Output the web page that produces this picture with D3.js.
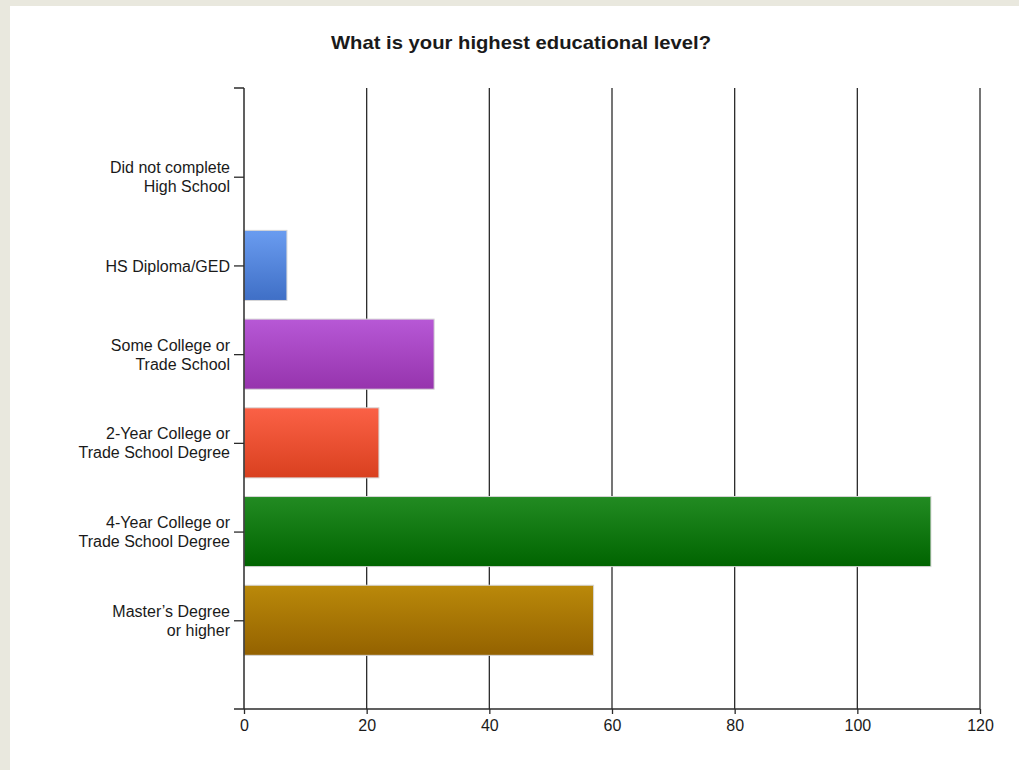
<!DOCTYPE html>
<html>
<head>
<meta charset="utf-8">
<script src="https://cdn.jsdelivr.net/npm/d3@7"></script>
<style>
  html, body { margin: 0; padding: 0; background: #e9e8de; }
  #chart { position: absolute; left: 10px; top: 6px; width: 1009px; height: 764px; background: #ffffff; }
  text { font-family: "Liberation Sans", Arial, sans-serif; fill: #1a1a1a; }
</style>
</head>
<body>
<div id="chart"></div>
<script>
// chart data
var categories = [
  ["Did not complete", "High School"],
  ["HS Diploma/GED"],
  ["Some College or", "Trade School"],
  ["2-Year College or", "Trade School Degree"],
  ["4-Year College or", "Trade School Degree"],
  ["Master\u2019s Degree", "or higher"]
];
var counts = [0, 7, 31, 22, 112, 57];
var xTicks = [0, 20, 40, 60, 80, 100, 120];
// gradient top / bottom colours for each bar
var barTop = ["#6a9cf0", "#6a9cf0", "#b758d6", "#fb6146", "#228b22", "#ba890a"];
var barBottom = ["#3f6fc6", "#3f6fc6", "#9634ad", "#d9401f", "#006400", "#946200"];

var title = "What is your highest educational level?";

// layout
var margin = {top: 82, left: 234, right: 39, bottom: 61};
var width = 1009, height = 764;

var svg = d3.select("#chart").append("svg")
    .attr("width", width)
    .attr("height", height);

var defs = svg.append("defs");
categories.forEach(function(c, i){
  var g = defs.append("linearGradient")
      .attr("id", "grad" + i)
      .attr("x1", 0).attr("y1", 0).attr("x2", 0).attr("y2", 1);
  g.append("stop").attr("offset", "0%").attr("stop-color", barTop[i]);
  g.append("stop").attr("offset", "100%").attr("stop-color", barBottom[i]);
});

var x = d3.scaleLinear()
    .domain([0, 120])
    .range([margin.left, width - margin.right]);

// category positions (one empty slot at each end)
var y = d3.scalePoint()
    .domain(d3.range(categories.length))
    .range([margin.top, height - margin.bottom])
    .padding(1);

var barH = y.step() * 0.79;

// title
svg.append("text")
    .attr("x", 511)
    .attr("y", 43)
    .attr("text-anchor", "middle")
    .style("font-size", "19px")
    .style("font-weight", "bold")
    .attr("textLength", 380)
    .attr("lengthAdjust", "spacingAndGlyphs")
    .text(title);

// vertical grid lines
svg.append("g")
  .selectAll("line")
  .data(xTicks.slice(1))
  .enter()
  .append("line")
    .attr("x1", function(d){ return x(d); })
    .attr("x2", function(d){ return x(d); })
    .attr("y1", margin.top)
    .attr("y2", height - margin.bottom)
    .attr("stroke", "#2b2b2b")
    .attr("stroke-width", 1.3);

// bars
svg.append("g")
  .selectAll("rect")
  .data(counts.map(function(d, i){ return {i: i, v: d}; }).filter(function(d){ return d.v > 0; }))
  .enter()
  .append("rect")
    .attr("x", x(0))
    .attr("y", function(d){ return y(d.i) - barH / 2; })
    .attr("width", function(d){ return x(d.v) - x(0); })
    .attr("height", barH)
    .attr("fill", function(d){ return "url(#grad" + d.i + ")"; })
    .attr("stroke", "#d6d6d6")
    .attr("stroke-width", 1);

// x axis
var xAxis = svg.append("g")
    .attr("transform", "translate(0," + (height - margin.bottom) + ")")
    .call(d3.axisBottom(x).tickValues(xTicks).tickSize(5).tickSizeOuter(0).tickPadding(6));
xAxis.select(".domain").remove();
xAxis.append("line")
    .attr("x1", x(0) - 10).attr("x2", x(120))
    .attr("stroke", "#2b2b2b").attr("stroke-width", 1.5);
xAxis.selectAll(".tick line").attr("stroke", "#2b2b2b").attr("stroke-width", 1.3);
xAxis.selectAll(".tick text")
    .style("font-size", "16px")
    .style("font-family", "\"Liberation Sans\", Arial, sans-serif")
    .attr("fill", "#1a1a1a");

// y axis
var yAxis = svg.append("g")
    .attr("transform", "translate(" + x(0) + ",0)")
    .call(d3.axisLeft(y).tickSize(10).tickPadding(4).tickFormat(""));
yAxis.select(".domain").remove();
yAxis.append("line")
    .attr("y1", margin.top).attr("y2", height - margin.bottom)
    .attr("stroke", "#2b2b2b").attr("stroke-width", 1.5);
yAxis.append("line")
    .attr("x1", -10).attr("x2", 0)
    .attr("y1", margin.top).attr("y2", margin.top)
    .attr("stroke", "#2b2b2b").attr("stroke-width", 1.5);
yAxis.selectAll(".tick line").attr("stroke", "#2b2b2b").attr("stroke-width", 1.3);

// category labels, one or two lines each
yAxis.selectAll(".tick").each(function(d, i){
  var lines = categories[i];
  var t = d3.select(this).append("text")
      .attr("x", -14)
      .attr("text-anchor", "end")
      .style("font-size", "16px")
      .attr("fill", "#1a1a1a");
  lines.forEach(function(line, j){
    t.append("tspan")
      .attr("x", -14)
      .attr("y", (j - (lines.length - 1) / 2) * 19)
      .attr("dy", "0.35em")
      .text(line);
  });
});
</script>
</body>
</html>
